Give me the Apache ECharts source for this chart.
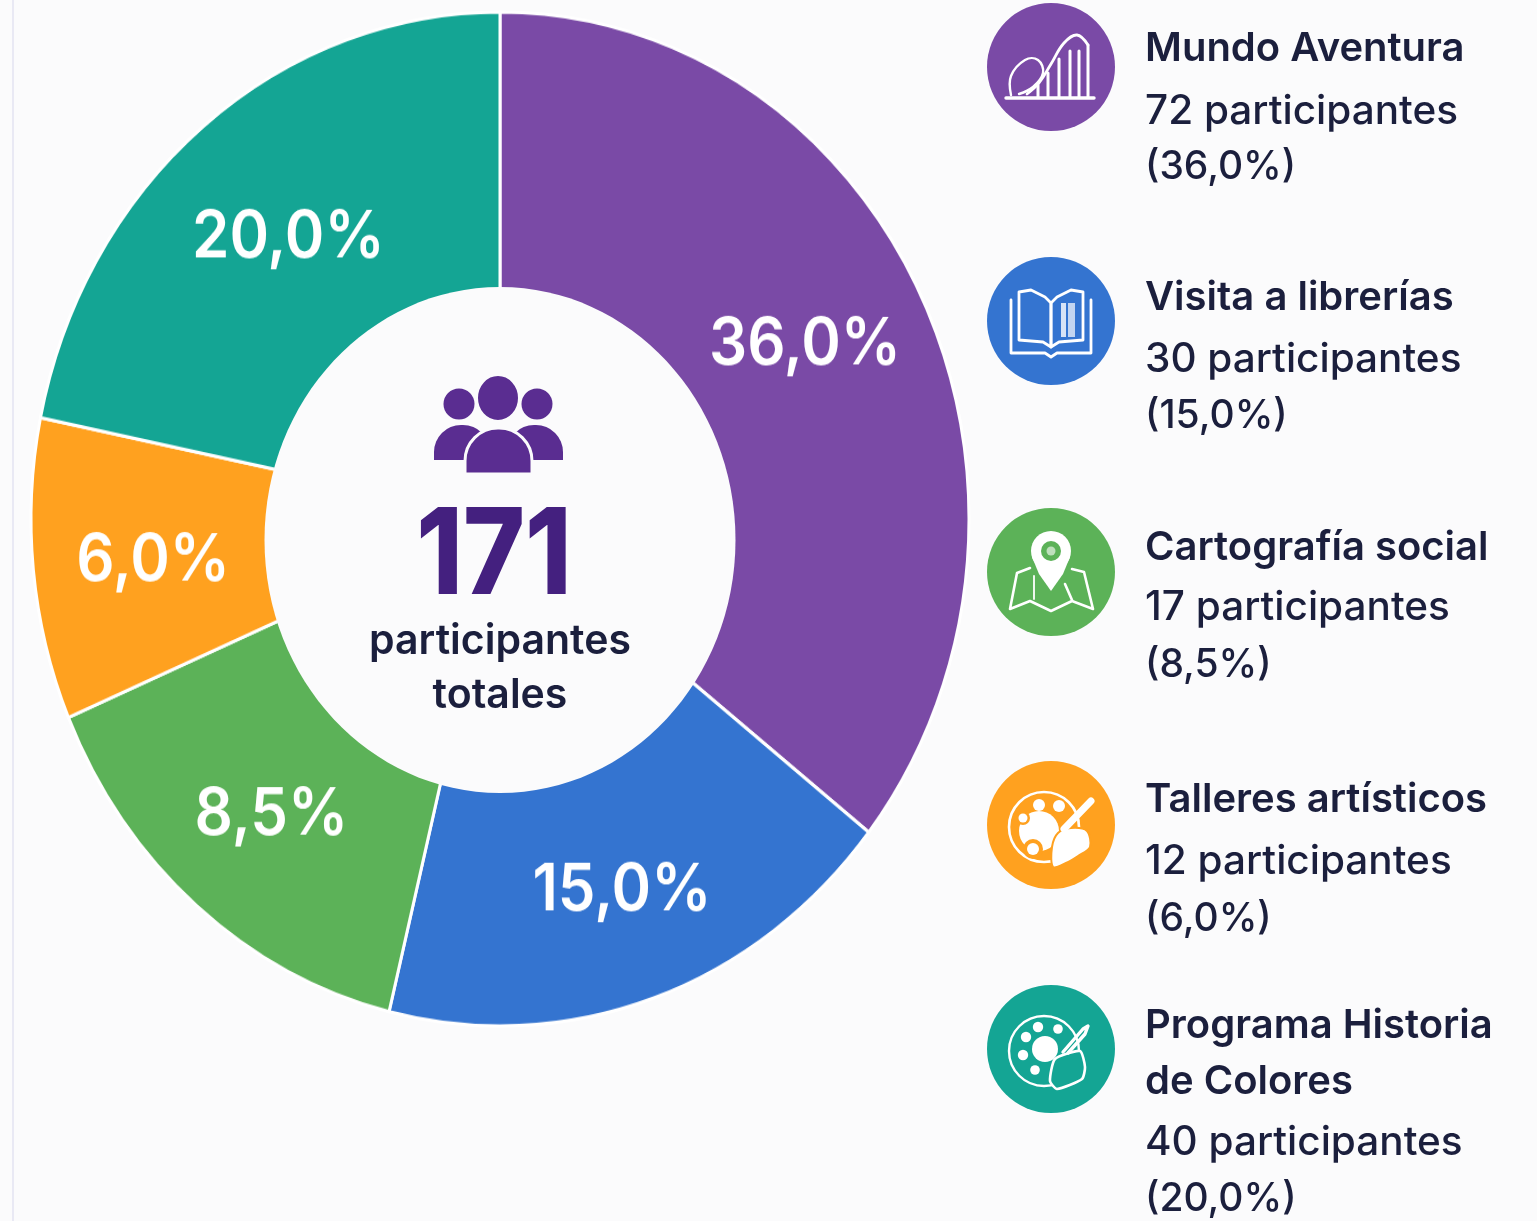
<!DOCTYPE html>
<html><head><meta charset="utf-8">
<script src="https://cdn.jsdelivr.net/npm/echarts@6/dist/echarts.min.js"></script>
<style>
html,body{margin:0;padding:0;width:1537px;height:1221px;overflow:hidden;background:#fbfbfc}
#pie{position:absolute;left:0;top:19px;width:1000px;height:1000px;transform:scaleY(1.081);transform-origin:50% 50%}
#over{position:absolute;left:0;top:0;width:1537px;height:1221px}
</style></head><body>
<div id="pie"></div><div id="over"></div>
<script>
// Reference data
const categories = ['Mundo Aventura','Visita a librerías','Cartografía social','Talleres artísticos','Programa Historia de Colores'];
const titleLines = [['Mundo Aventura'],['Visita a librerías'],['Cartografía social'],['Talleres artísticos'],['Programa Historia','de Colores']];
const participants = [72,30,17,12,40];
const percentLabels = ['36,0','15,0','8,5','6,0','20,0'];
// Slice sizes as drawn in the picture (they differ from the printed percentages)
const sliceShares = [35.6,18.2,14.8,9.6,21.8];
const colors = ['#7a4aa6','#3474d0','#5cb258','#ffa11f','#14a594'];
const totalLabel = '171';
const centerLines = ['participantes','totales'];

const FONT = 'Inter';
const INK = '#1b1f3d';
const BG = '#fbfbfc';

// Layout (screen positions only)
const rowY = [[49,112,167],[298,360,416],[548,608,665],[800,862,919],[1026,1082,1143,1199]];
const iconY = [67,321,572,825,1049];
const iconX = 1051, textX = 1145;
const labelNudge = [[-3,-11],[10,20],[-7,13],[-6,5],[5,5]];

echarts.init(document.getElementById('pie'),null,{renderer:'canvas'}).setOption({
  animation:false,
  series:[{
    type:'pie', center:[500,500], radius:[210,469], startAngle:90, clockwise:true,
    silent:true, avoidLabelOverlap:false,
    itemStyle:{borderColor:'#ffffff',borderWidth:3},
    label:{show:true,position:'inside',color:'#ffffff',fontFamily:FONT,fontWeight:600,fontSize:60,
      formatter:p=>percentLabels[p.dataIndex]+'%'},
    labelLine:{show:false},
    labelLayout:p=>({dx:labelNudge[p.dataIndex][0],dy:labelNudge[p.dataIndex][1]}),
    data:categories.map((n,i)=>({name:n,value:sliceShares[i],itemStyle:{color:colors[i]}}))
  }]
});

function T(text,x,y,size,weight,fill,align){
  return {type:'text',silent:true,style:{text,x,y,fontFamily:FONT,fontSize:size,fontWeight:weight,fill,align:align||'left',verticalAlign:'middle'}};
}
const W='#ffffff';
const pl=(pts,w,smooth)=>({type:'polyline',silent:true,shape:{points:pts,smooth:smooth||0},style:{stroke:W,lineWidth:w||2.2,fill:null,lineJoin:'round',lineCap:'round'}});
const pg=(pts,fill,smooth,stroke,w)=>({type:'polygon',silent:true,shape:{points:pts,smooth:smooth||0},style:{fill:fill||W,stroke:stroke||null,lineWidth:w||0,lineJoin:'round'}});
const ci=(x,y,r,fill,stroke,w)=>({type:'circle',silent:true,shape:{cx:x,cy:y,r},style:{fill:fill||null,stroke:stroke||null,lineWidth:w||0}});
const rc=(x,y,w,h,fill)=>({type:'rect',silent:true,shape:{x,y,width:w,height:h},style:{fill:fill||W}});

const glyphs = [
  // roller coaster
  [pl([[-45,31],[43,31]],3.4),
   pl([[-40,28],[-40,9],[-26,-7],[-13,-7],[-8,6],[-18,20],[-32,27]],2.4,0.4),
   pl([[-24,27],[-12,16],[0,-3],[13,-24],[26,-32],[37,-22]],2.8,0.4),
   pl([[37,-22],[37,30]],3),
   pl([[-13,18],[-13,30]],3),pl([[-3,6],[-3,30]],3),pl([[8,-8],[8,30]],3),pl([[19,-16],[19,30]],3),pl([[28,-16],[28,30]],3)],
  // open book
  [pl([[-40,-21],[-40,32],[-6,32],[0,36],[6,32],[40,32],[40,-21]],2.8),
   pl([[-32,-29],[-20,-31],[-6,-24],[0,-18],[0,26],[-8,21],[-32,19],[-32,-29]],2.8),
   pl([[32,-29],[20,-31],[6,-24],[0,-18],[0,26],[8,21],[32,19],[32,-29]],2.8),
   rc(10,-18,5,34,'rgba(255,255,255,0.8)'),rc(17,-18,7,34,'rgba(255,255,255,0.7)')],
  // map and pin
  [pl([[-21,-4],[-34,1],[-41,37],[-21,29],[0,39],[21,29],[42,37],[33,0],[21,-3]],2.6),
   pl([[-17,4],[-17,27]],1.8),pl([[14,12],[21,28]],2.6),
   pg([[-19,-15],[-12,2],[0,19],[12,2],[19,-15]]),ci(0,-21,20,W),ci(0,-21,10,colors[2]),ci(0,-21,4.5,'rgba(255,255,255,0.6)')],
  // palette, orange
  [ci(-7,2,35,null,W,2.6),ci(-12,6,20,W),
   ci(-12,-20,6,W),ci(8,-19,6,W),
   ci(-28,-7,7,colors[3]),ci(-28,-7,4.5,W),
   ci(-18,24,10,colors[3]),ci(-18,24,6,W),
   pg([[1,22],[7,8],[20,3],[36,6],[39,22],[27,31],[15,38],[2,42]],W,0.3,colors[3],2),
   pl([[13,4],[40,-24]],7)],
  // palette, teal
  [ci(-7,2,35,null,W,2.4),ci(-6,0,13,W),
   ci(-13,-22,5.2,W),ci(7,-20,4.8,W),ci(-25,-12,5.2,W),ci(-28,6,5.2,W),ci(-16,21,4.8,W),
   pg([[-1,32],[4,10],[29,2],[34,18],[31,30],[6,40]],colors[4],0.2,W,2.6),
   pl([[12,3],[32,-20],[37,-23],[34,-15],[17,4]],3.4)]
];

const els = [];
els.push({type:'rect',silent:true,shape:{x:12,y:0,width:2,height:1221},style:{fill:'#e9e9f4'}});

// donut hole, as offset in the reference
els.push({type:'ellipse',silent:true,shape:{cx:500,cy:540,rx:235.5,ry:253},style:{fill:BG}});

// centre block
const cp='#5a2d91';
els.push({type:'rect',silent:true,shape:{x:434,y:425,width:56,height:35,r:[27,27,0,0]},style:{fill:cp}});
els.push({type:'rect',silent:true,shape:{x:507,y:425,width:56,height:35,r:[27,27,0,0]},style:{fill:cp}});
els.push({type:'rect',silent:true,shape:{x:465,y:428,width:67,height:46,r:[33,33,0,0]},style:{fill:cp,stroke:BG,lineWidth:3}});
els.push(ci(459,404,15.5,cp));
els.push(ci(537,404,15.5,cp));
els.push({type:'ellipse',silent:true,shape:{cx:498,cy:398,rx:21,ry:23},style:{fill:cp,stroke:BG,lineWidth:2}});
els.push({type:'text',silent:true,x:494,y:558,scaleX:0.88,style:{text:totalLabel,x:0,y:0,fontFamily:FONT,fontSize:120,fontWeight:800,fill:'#44207f',align:'center',verticalAlign:'middle'}});
els.push(T(centerLines[0],500,642,41,600,INK,'center'));
els.push(T(centerLines[1],500,696,41,600,INK,'center'));

// legend
categories.forEach((n,i)=>{
  els.push(ci(iconX,iconY[i],64,colors[i]));
  els.push({type:'group',silent:true,x:iconX,y:iconY[i],children:glyphs[i]});
  const lines=titleLines[i], ys=rowY[i];
  lines.forEach((t,k)=>els.push(T(t,textX,ys[k],40,600,INK)));
  els.push(T(participants[i]+' participantes',textX,ys[lines.length],40.5,500,INK));
  els.push(T('('+percentLabels[i]+'%)',textX,ys[lines.length+1],39,500,INK));
});

echarts.init(document.getElementById('over'),null,{renderer:'canvas'}).setOption({
  animation:false,
  graphic:{elements:els}
});
</script>
</body></html>
